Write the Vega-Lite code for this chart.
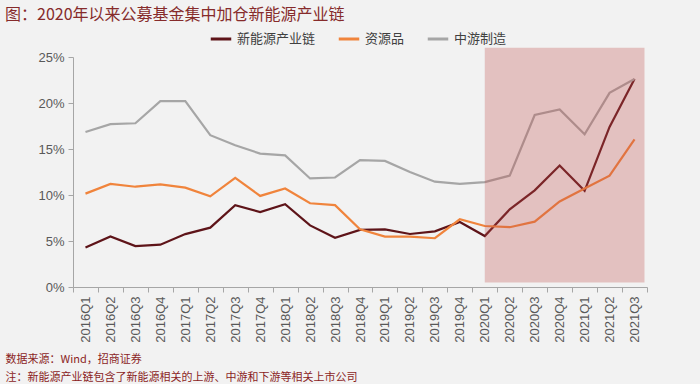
{
  "$schema": "https://vega.github.io/schema/vega-lite/v6.json",
  "width": 574,
  "height": 230,
  "autosize": {"type": "none"},
  "padding": {"left": 73, "top": 57, "right": 53, "bottom": 97},
  "background": "#f2f2f2",
  "config": {"view": {"stroke": null}, "font": "Liberation Sans"},
  "title": {
    "text": "图：2020年以来公募基金集中加仓新能源产业链",
    "anchor": "start",
    "frame": "group",
    "font": "Noto Sans CJK SC",
    "fontSize": 16,
    "fontWeight": "normal",
    "color": "#862b2b",
    "dx": -68,
    "dy": 0
  },
  "data": {
    "values": [
      {"q": "2016Q1", "s": "新能源产业链", "v": 4.3},
      {"q": "2016Q2", "s": "新能源产业链", "v": 5.5},
      {"q": "2016Q3", "s": "新能源产业链", "v": 4.45},
      {"q": "2016Q4", "s": "新能源产业链", "v": 4.6},
      {"q": "2017Q1", "s": "新能源产业链", "v": 5.75},
      {"q": "2017Q2", "s": "新能源产业链", "v": 6.45},
      {"q": "2017Q3", "s": "新能源产业链", "v": 8.9},
      {"q": "2017Q4", "s": "新能源产业链", "v": 8.15},
      {"q": "2018Q1", "s": "新能源产业链", "v": 9.0},
      {"q": "2018Q2", "s": "新能源产业链", "v": 6.7},
      {"q": "2018Q3", "s": "新能源产业链", "v": 5.35},
      {"q": "2018Q4", "s": "新能源产业链", "v": 6.2},
      {"q": "2019Q1", "s": "新能源产业链", "v": 6.27},
      {"q": "2019Q2", "s": "新能源产业链", "v": 5.76},
      {"q": "2019Q3", "s": "新能源产业链", "v": 6.05},
      {"q": "2019Q4", "s": "新能源产业链", "v": 7.07},
      {"q": "2020Q1", "s": "新能源产业链", "v": 5.54},
      {"q": "2020Q2", "s": "新能源产业链", "v": 8.44},
      {"q": "2020Q3", "s": "新能源产业链", "v": 10.5},
      {"q": "2020Q4", "s": "新能源产业链", "v": 13.2},
      {"q": "2021Q1", "s": "新能源产业链", "v": 10.45},
      {"q": "2021Q2", "s": "新能源产业链", "v": 17.4},
      {"q": "2021Q3", "s": "新能源产业链", "v": 22.6},
      {"q": "2016Q1", "s": "资源品", "v": 10.15},
      {"q": "2016Q2", "s": "资源品", "v": 11.2},
      {"q": "2016Q3", "s": "资源品", "v": 10.9},
      {"q": "2016Q4", "s": "资源品", "v": 11.15},
      {"q": "2017Q1", "s": "资源品", "v": 10.8},
      {"q": "2017Q2", "s": "资源品", "v": 9.85},
      {"q": "2017Q3", "s": "资源品", "v": 11.85},
      {"q": "2017Q4", "s": "资源品", "v": 9.9},
      {"q": "2018Q1", "s": "资源品", "v": 10.7},
      {"q": "2018Q2", "s": "资源品", "v": 9.1},
      {"q": "2018Q3", "s": "资源品", "v": 8.9},
      {"q": "2018Q4", "s": "资源品", "v": 6.27},
      {"q": "2019Q1", "s": "资源品", "v": 5.47},
      {"q": "2019Q2", "s": "资源品", "v": 5.47},
      {"q": "2019Q3", "s": "资源品", "v": 5.3},
      {"q": "2019Q4", "s": "资源品", "v": 7.36},
      {"q": "2020Q1", "s": "资源品", "v": 6.63},
      {"q": "2020Q2", "s": "资源品", "v": 6.5},
      {"q": "2020Q3", "s": "资源品", "v": 7.1},
      {"q": "2020Q4", "s": "资源品", "v": 9.3},
      {"q": "2021Q1", "s": "资源品", "v": 10.7},
      {"q": "2021Q2", "s": "资源品", "v": 12.1},
      {"q": "2021Q3", "s": "资源品", "v": 16.05},
      {"q": "2016Q1", "s": "中游制造", "v": 16.85},
      {"q": "2016Q2", "s": "中游制造", "v": 17.7},
      {"q": "2016Q3", "s": "中游制造", "v": 17.8},
      {"q": "2016Q4", "s": "中游制造", "v": 20.2},
      {"q": "2017Q1", "s": "中游制造", "v": 20.2},
      {"q": "2017Q2", "s": "中游制造", "v": 16.5},
      {"q": "2017Q3", "s": "中游制造", "v": 15.4},
      {"q": "2017Q4", "s": "中游制造", "v": 14.5},
      {"q": "2018Q1", "s": "中游制造", "v": 14.3},
      {"q": "2018Q2", "s": "中游制造", "v": 11.8},
      {"q": "2018Q3", "s": "中游制造", "v": 11.9},
      {"q": "2018Q4", "s": "中游制造", "v": 13.8},
      {"q": "2019Q1", "s": "中游制造", "v": 13.7},
      {"q": "2019Q2", "s": "中游制造", "v": 12.5},
      {"q": "2019Q3", "s": "中游制造", "v": 11.45},
      {"q": "2019Q4", "s": "中游制造", "v": 11.2},
      {"q": "2020Q1", "s": "中游制造", "v": 11.4},
      {"q": "2020Q2", "s": "中游制造", "v": 12.1},
      {"q": "2020Q3", "s": "中游制造", "v": 18.7},
      {"q": "2020Q4", "s": "中游制造", "v": 19.3},
      {"q": "2021Q1", "s": "中游制造", "v": 16.6},
      {"q": "2021Q2", "s": "中游制造", "v": 21.1},
      {"q": "2021Q3", "s": "中游制造", "v": 22.6}
    ]
  },
  "layer": [
    {
      "mark": {"type": "line", "strokeWidth": 2.2},
      "encoding": {
        "x": {
          "field": "q",
          "type": "ordinal",
          "scale": {
            "type": "band",
            "paddingInner": 0,
            "paddingOuter": 0,
            "domain": ["2016Q1","2016Q2","2016Q3","2016Q4","2017Q1","2017Q2","2017Q3","2017Q4","2018Q1","2018Q2","2018Q3","2018Q4","2019Q1","2019Q2","2019Q3","2019Q4","2020Q1","2020Q2","2020Q3","2020Q4","2021Q1","2021Q2","2021Q3"]
          },
          "axis": {
            "title": ["数据来源：Wind，招商证券", "注：新能源产业链包含了新能源相关的上游、中游和下游等相关上市公司"],
            "titleAnchor": "start",
            "titleAlign": "left",
            "titleX": -68,
            "titleY": 75,
            "titleBaseline": "alphabetic",
            "titleFont": "Noto Sans CJK SC",
            "titleFontSize": 11,
            "titleFontWeight": "normal",
            "titleColor": "#8b1e1e",
            "titleLineHeight": 18,
            "labelAngle": -90,
            "tickBand": "extent",
            "labelFontSize": 13,
            "labelColor": "#595959",
            "labelPadding": 4,
            "domainColor": "#a6a6a6",
            "tickColor": "#a6a6a6",
            "tickSize": 5
          }
        },
        "y": {
          "field": "v",
          "type": "quantitative",
          "scale": {"domain": [0, 25], "nice": false},
          "axis": {
            "values": [0, 5, 10, 15, 20, 25],
            "labelExpr": "datum.value + '%'",
            "title": null,
            "grid": false,
            "domainColor": "#a6a6a6",
            "tickColor": "#a6a6a6",
            "tickSize": 5,
            "labelFontSize": 13,
            "labelColor": "#595959",
            "labelPadding": 4
          }
        },
        "color": {
          "field": "s",
          "type": "nominal",
          "scale": {
            "domain": ["新能源产业链", "资源品", "中游制造"],
            "range": ["#5e1419", "#f0843c", "#a6a6a6"]
          },
          "legend": {
            "orient": "none",
            "legendX": 136,
            "legendY": -30,
            "direction": "horizontal",
            "title": null,
            "symbolType": "stroke",
            "symbolStrokeWidth": 3,
            "symbolSize": 420,
            "labelFont": "Noto Sans CJK SC",
            "labelFontSize": 13,
            "labelColor": "#404040",
            "columnPadding": 16
          }
        }
      }
    },
    {
      "data": {"values": [{}]},
      "mark": {"type": "rect", "color": "#c0504d", "opacity": 0.3},
      "encoding": {
        "x": {"datum": "2020Q1", "type": "ordinal", "bandPosition": 0.5},
        "x2": {"datum": "2021Q3", "bandPosition": 0.9},
        "y": {"datum": 26, "type": "quantitative"},
        "y2": {"datum": 0.5}
      }
    }
  ]
}
